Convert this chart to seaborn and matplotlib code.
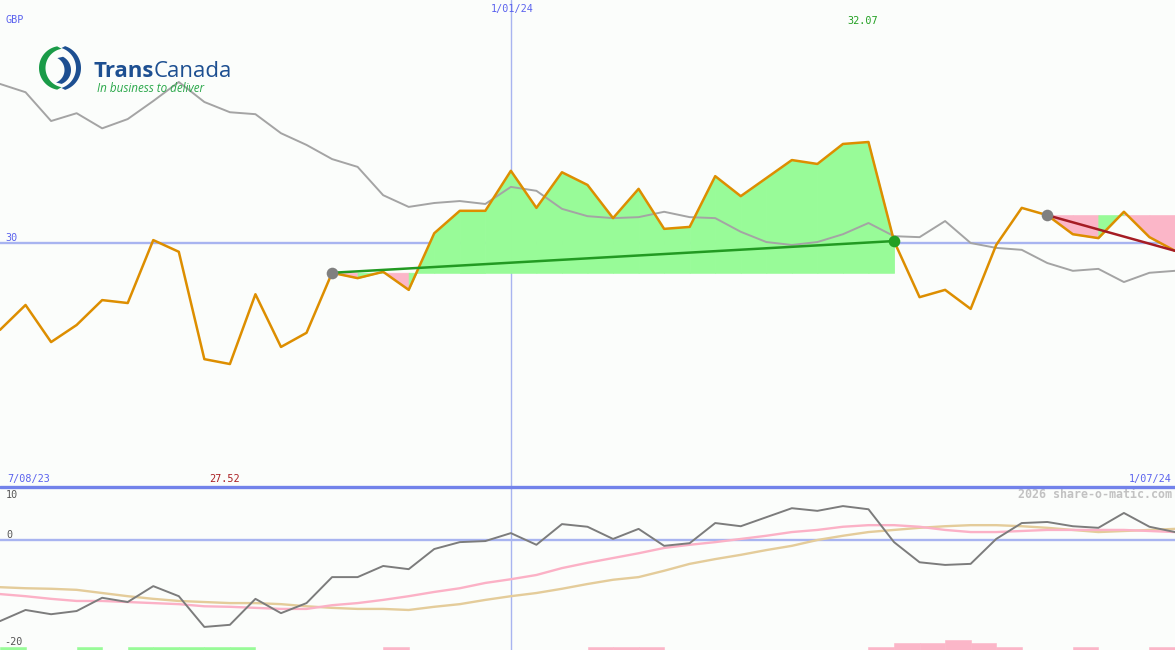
import numpy as np
import pandas as pd
import matplotlib
matplotlib.use("Agg")
import matplotlib.pyplot as plt
from matplotlib.patches import Polygon
import seaborn as sns

# ---------------- data ----------------
currency = "GBP"
date_labels = ["7/08/23", "1/01/24", "1/07/24"]
date_positions = [0, 20, 46]

price = [28.22, 28.73, 27.97, 28.32, 28.83, 28.77, 30.06, 29.82, 27.62, 27.52,
         28.95, 27.87, 28.16, 29.39, 29.28, 29.41, 29.04, 30.20, 30.66, 30.66,
         31.48, 30.72, 31.45, 31.19, 30.51, 31.11, 30.29, 30.33, 31.37, 30.96,
         31.33, 31.70, 31.62, 32.03, 32.07, 30.04, 28.89, 29.04, 28.65, 29.96,
         30.72, 30.57, 30.18, 30.10, 30.64, 30.12, 29.84]

relative = [33.26, 33.09, 32.50, 32.66, 32.35, 32.54, 32.91, 33.30, 32.89, 32.68,
            32.64, 32.25, 32.01, 31.72, 31.56, 30.98, 30.74, 30.82, 30.86, 30.80,
            31.15, 31.07, 30.70, 30.55, 30.51, 30.53, 30.64, 30.53, 30.51, 30.23,
            30.02, 29.96, 30.02, 30.18, 30.41, 30.14, 30.12, 30.45, 30.00, 29.90,
            29.86, 29.59, 29.43, 29.47, 29.20, 29.39, 29.43]

momentum = [-15.3, -13.2, -14.0, -13.4, -10.9, -11.7, -8.7, -10.6, -16.4, -16.0,
            -11.1, -13.8, -11.9, -7.0, -7.0, -4.9, -5.5, -1.7, -0.4, -0.2,
            1.3, -0.9, 3.0, 2.5, 0.2, 2.1, -1.1, -0.6, 3.2, 2.6,
            4.3, 6.0, 5.5, 6.4, 5.8, -0.4, -4.2, -4.7, -4.5, 0.2,
            3.2, 3.4, 2.6, 2.3, 5.1, 2.5, 1.5]

ma_fast = [-10.2, -10.6, -11.1, -11.5, -11.5, -11.7, -11.9, -12.1, -12.5, -12.6,
           -12.8, -13.0, -13.0, -12.3, -11.9, -11.3, -10.6, -9.8, -9.1, -8.1,
           -7.4, -6.6, -5.3, -4.3, -3.4, -2.5, -1.5, -0.9, -0.4, 0.2,
           0.8, 1.5, 1.9, 2.5, 2.8, 2.8, 2.5, 1.9, 1.5, 1.5,
           1.7, 1.9, 1.9, 1.9, 1.9, 1.7, 1.5]

ma_slow = [-8.9, -9.1, -9.2, -9.4, -10.0, -10.6, -11.1, -11.5, -11.7, -11.9,
           -11.9, -12.1, -12.5, -12.8, -13.0, -13.0, -13.2, -12.6, -12.1, -11.3,
           -10.6, -10.0, -9.2, -8.3, -7.5, -7.0, -5.8, -4.5, -3.6, -2.8,
           -1.9, -1.1, 0.0, 0.8, 1.5, 1.9, 2.3, 2.6, 2.8, 2.8,
           2.6, 2.3, 1.9, 1.5, 1.7, 1.9, 2.1]

# signal strength per interval (+ buy / - sell)
signal = [1, 0, 0, 1, 0, 1, 1, 1, 1, 1,
          0, 0, 0, 0, 0, -1, 0, 0, 0, 0,
          0, 0, 0, -1, -1, -1, 0, 0, 0, 0,
          0, 0, 0, 0, -1, -2, -2, -3, -2, -1,
          0, 0, -1, 0, 0, -1]

# trends: (start index, end index)
trend_up = (13, 35)
trend_down = (41, 46)

price_ref = 30
mom_ticks = [10, 0, -20]

# ---------------- styling ----------------
BG = "#fbfdfb"
ORANGE = "#dd8e00"
GRAY = "#a4a4a4"
DGRAY = "#7c7c7c"
PINK_L = "#fbb1c6"
TAN = "#e4cc9a"
FILL_G = "#98fb98"
FILL_P = "#fbb6c8"
BLUE_T = "#5a62ee"
BLUE_L = "#a8b4f0"
BLUE_S = "#7282ea"
MONO = "DejaVu Sans Mono"

sns.set_style("white")
plt.rcParams["font.family"] = ["DejaVu Sans"]

W, H = 1175, 650
fig = plt.figure(figsize=(W / 100, H / 100), dpi=100, facecolor=BG)
ax = fig.add_axes([0, 163 / H, 1, 487 / H], facecolor=BG)
axb = fig.add_axes([0, 0, 1, 163 / H], facecolor=BG)

n = len(price)
idx = np.arange(n)
df = pd.DataFrame({"i": idx, "price": price, "rel": relative,
                   "mom": momentum, "fast": ma_fast, "slow": ma_slow})

for a in (ax, axb):
    a.set_xlim(0, n - 1)
    for s in a.spines.values():
        s.set_visible(False)
    a.set_xticks([])
    a.set_yticks([])

ax.set_ylim(25.0, 34.98)
axb.set_ylim(-20.75, 10)

# reference lines
ax.axhline(price_ref, color=BLUE_L, lw=1.7, zorder=1)
axb.axhline(0, color=BLUE_L, lw=1.7, zorder=1)
mid = date_positions[1]
ax.axvline(mid, color=BLUE_L, lw=1.0, zorder=1)
axb.axvline(mid, color=BLUE_L, lw=1.0, zorder=1)

# trend fills (per segment, coloured by segment end)
def trend_fill(start, end):
    level = price[start]
    for k in range(start, end):
        c = FILL_G if price[k + 1] >= level else FILL_P
        ax.fill_between(idx[k:k + 2], price[k:k + 2], level, facecolor=c,
                        edgecolor=c, lw=0.6, zorder=2)

trend_fill(*trend_up)
trend_fill(*trend_down)

sns.lineplot(data=df, x="i", y="rel", ax=ax, color=GRAY, lw=1.4, zorder=3)
sns.lineplot(data=df, x="i", y="price", ax=ax, color=ORANGE, lw=1.8, zorder=4)

s0, s1 = trend_up
sns.lineplot(x=[s0, s1], y=[price[s0], price[s1]], ax=ax, color="#229a22", lw=1.8, zorder=5)
d0, d1 = trend_down
sns.lineplot(x=[d0, d1], y=[price[d0], price[d1]], ax=ax, color="#a51c24", lw=1.8, zorder=5)
ax.scatter([s0, d0], [price[s0], price[d0]], s=70, color="#808080", zorder=6, lw=0)
ax.scatter([s1], [price[s1]], s=70, color="#22a022", zorder=6, lw=0)
ax.set_xlabel(""); ax.set_ylabel("")

# lower panel
sns.lineplot(data=df, x="i", y="slow", ax=axb, color=TAN, lw=1.7, zorder=3)
sns.lineplot(data=df, x="i", y="fast", ax=axb, color=PINK_L, lw=1.7, zorder=3)
sns.lineplot(data=df, x="i", y="mom", ax=axb, color=DGRAY, lw=1.4, zorder=4)
axb.set_xlabel(""); axb.set_ylabel("")

unit = 0.65
ymin = axb.get_ylim()[0]
for k, v in enumerate(signal):
    if v == 0:
        continue
    c = FILL_G if v > 0 else FILL_P
    axb.bar(k, abs(v) * unit, width=1, bottom=ymin, align="edge",
            facecolor=c, edgecolor=c, lw=0.4, zorder=2)

# separator
axb.axhline(10, color=BLUE_S, lw=2.4, clip_on=False, zorder=10)

# ---------------- text ----------------
fs = 7.3
def lab(a, txt, xy, xycoords, off, ha="left", color=BLUE_T, **kw):
    a.annotate(txt, xy=xy, xycoords=xycoords, xytext=off, textcoords="offset pixels",
               ha=ha, va="center", fontsize=kw.pop("fontsize", fs), color=color,
               family=kw.pop("family", MONO), annotation_clip=False, **kw)

lab(ax, currency, (0, 1), "axes fraction", (5, -20))
lab(ax, f"{price_ref}", (0, price_ref), ("axes fraction", "data"), (5, 5))
lab(ax, date_labels[1], (mid, 1), ("data", "axes fraction"), (1, -9), ha="center")
lab(ax, date_labels[0], (0, 0), "axes fraction", (7, 8))
lab(ax, date_labels[2], (1, 0), "axes fraction", (-3, 8), ha="right")
imax = int(np.argmax(price)); imin = int(np.argmin(price))
lab(ax, f"{price[imax]:.2f}", (imax, 1), ("data", "axes fraction"), (-6, -21), ha="center", color="#22a022")
lab(ax, f"{price[imin]:.2f}", (imin, 0), ("data", "axes fraction"), (-5, 8), ha="center", color="#aa1f22")

lab(axb, f"{mom_ticks[0]}", (0, 1), "axes fraction", (6, -8), color="#555555")
lab(axb, f"{mom_ticks[1]}", (0, mom_ticks[1]), ("axes fraction", "data"), (6, 5), color="#555555")
lab(axb, f"{mom_ticks[2]}", (0, mom_ticks[2]), ("axes fraction", "data"), (4, 4), color="#555555")
lab(axb, "2026 share-o-matic.com", (1, 1), "axes fraction", (-3, -8), ha="right",
    color="#c2c2c2", fontsize=8.4, fontweight="bold")

# ---------------- logo ----------------
t1 = fig.text(93 / W, 1 - 77 / H, "Trans", fontsize=16, fontweight="bold",
              family="Open Sans", color="#1d4f91", va="baseline", ha="left")
ax.annotate("Canada", xy=(1, 0), xycoords=t1, xytext=(0, 0), textcoords="offset pixels",
            fontsize=16, family="Open Sans", color="#1d4f91", va="bottom", ha="left",
            annotation_clip=False)
fig.text(97 / W, 1 - 89 / H, "In business to deliver", fontsize=8.4, style="italic",
         family="Open Sans", color="#2aa84a", va="center", ha="left")

# logo symbol in pixel units (y downward)
lg = fig.add_axes([30 / W, 1 - 96 / H, 60 / W, 56 / H])
lg.set_xlim(30, 90); lg.set_ylim(96, 40); lg.axis("off")


def crescent(c_out, r_out, c_in, r_in, a0, a1, color):
    t = np.radians(np.linspace(a0, a1, 60))
    outer = np.c_[c_out[0] + r_out * np.cos(t), c_out[1] - r_out * np.sin(t)]
    inner = np.c_[c_in[0] + r_in * np.cos(t[::-1]), c_in[1] - r_in * np.sin(t[::-1])]
    lg.add_patch(Polygon(np.vstack([outer, inner]), closed=True, color=color, lw=0))


crescent((61, 68), 22, (65, 68), 19.5, 100, 260, "#1a9b48")
crescent((58, 68), 23, (55, 68), 21, -72, 72, "#1d4f91")
crescent((56, 70), 15, (51, 70), 13.5, -68, 62, "#1d4f91")

fig.savefig("out.png", dpi=100, facecolor=BG)
